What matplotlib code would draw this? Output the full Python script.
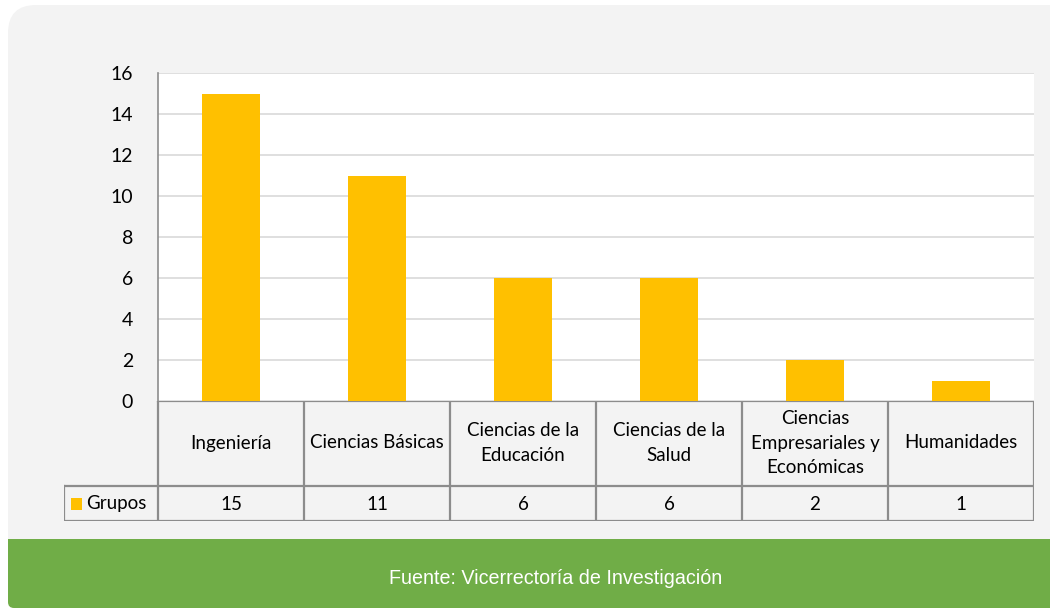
import matplotlib.pyplot as plt
from matplotlib.patches import FancyBboxPatch, Rectangle

# data
categories = ["Ingeniería", "Ciencias Básicas", "Ciencias de la\nEducación",
              "Ciencias de la\nSalud", "Ciencias\nEmpresariales y\nEconómicas",
              "Humanidades"]
grupos = [15, 11, 6, 6, 2, 1]
series_name = "Grupos"
source_text = "Fuente: Vicerrectoría de Investigación"

W, H = 1050, 610
BAR = "#FFC000"
GRID = "#d9d9d9"
LINE = "#8c8c8c"
PANEL = "#f3f3f3"
GREEN = "#70ad47"
FONT = "Lato"
FS = 13.5

fig = plt.figure(figsize=(W / 100, H / 100), dpi=100)
fig.patch.set_facecolor("white")


def px_box(x0, y0, x1, y1):
    # pixel box (top-left origin) -> figure fraction [l, b, w, h]
    return [x0 / W, (H - y1) / H, (x1 - x0) / W, (y1 - y0) / H]


# background panel and green footer, drawn in a full-figure axes
bg = fig.add_axes([0, 0, 1, 1])
bg.set_xlim(0, W)
bg.set_ylim(H, 0)
bg.axis("off")
bg.add_patch(FancyBboxPatch((8 + 28, 5 + 28), W + 40, 603 - 56,
                            boxstyle="round,pad=28", fc=PANEL, ec="none"))
bg.add_patch(FancyBboxPatch((8 + 6, 539 + 6), W + 40, 69 - 12,
                            boxstyle="round,pad=6", fc=GREEN, ec="none"))
bg.add_patch(Rectangle((8, 539), W, 20, fc=GREEN, ec="none"))
bg.text(556, 578, source_text, color="white", fontsize=14.2,
        family="Liberation Sans", ha="center", va="center")

# bar plot area
ax = fig.add_axes(px_box(158, 73, 1034, 401))
x = list(range(len(categories)))
ax.bar(x, grupos, width=0.4, color=BAR, zorder=3)
ax.set_xlim(-0.5, len(categories) - 0.5)
ax.set_ylim(0, 16)
ax.set_yticks(range(0, 17, 2))
ax.set_facecolor("white")
ax.grid(axis="y", color=GRID, linewidth=1.2, zorder=0)
for s in ["top", "right", "bottom"]:
    ax.spines[s].set_visible(False)
ax.spines["left"].set_color(LINE)
ax.spines["left"].set_linewidth(1.2)
ax.set_xticks([])
ax.tick_params(axis="y", length=0, pad=18, labelsize=14, labelcolor="black")
for lab in ax.get_yticklabels():
    lab.set_family(FONT)

# data table under the chart
leg_w = (158 - 64) / 146.0
tb = fig.add_axes(px_box(64, 401, 1034, 521))
tb.set_xlim(-0.5 - leg_w, len(categories) - 0.5)
tb.set_ylim(120, 0)
tb.axis("off")
lw = 1.6
tb.add_patch(Rectangle((-0.5, 0), len(categories), 120, fc=PANEL, ec="none"))
tb.add_patch(Rectangle((-0.5 - leg_w, 85), leg_w, 35, fc=PANEL, ec="none"))
for i in range(len(categories) + 1):
    tb.plot([i - 0.5, i - 0.5], [0, 120], color=LINE, lw=lw, solid_capstyle="butt")
tb.plot([-0.5 - leg_w] * 2, [85, 120], color=LINE, lw=lw)
tb.plot([-0.5, len(categories) - 0.5], [0, 0], color=LINE, lw=lw)
tb.plot([-0.5 - leg_w, len(categories) - 0.5], [85, 85], color=LINE, lw=lw)
tb.plot([-0.5 - leg_w, len(categories) - 0.5], [120, 120], color=LINE, lw=lw)
for i, (c, v) in enumerate(zip(categories, grupos)):
    tb.text(i, 42, c, ha="center", va="center", fontsize=FS, family=FONT,
            linespacing=1.55, color="black")
    tb.text(i, 103, str(v), ha="center", va="center", fontsize=FS, family=FONT,
            color="black")
tb.add_patch(Rectangle((-0.5 - leg_w + 0.05, 97), 0.075, 12, fc=BAR, ec="none"))
tb.text(-0.5 - leg_w + 0.15, 103, series_name, ha="left", va="center",
        fontsize=FS, family=FONT, color="black")

plt.savefig("out.png", dpi=100, facecolor=fig.get_facecolor())
